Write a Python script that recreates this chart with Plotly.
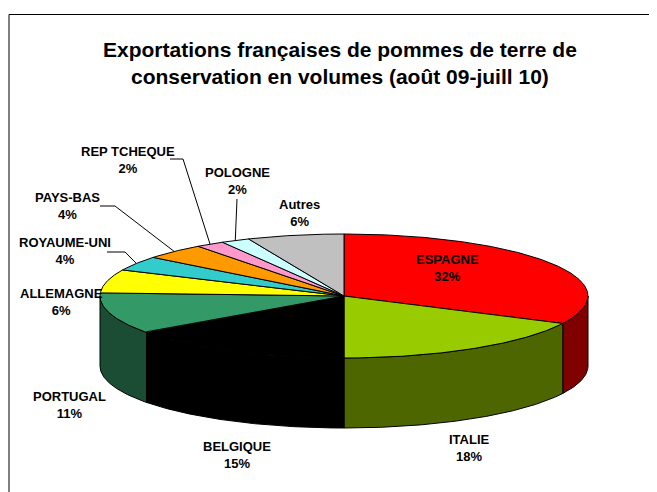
import numpy as np
import plotly.graph_objects as go

# ---- data ----
countries = ["ESPAGNE", "ITALIE", "BELGIQUE", "PORTUGAL", "ALLEMAGNE",
             "ROYAUME-UNI", "PAYS-BAS", "REP TCHEQUE", "POLOGNE", "Autres"]
shares = [32.3, 17.7, 15.0, 10.8, 6.1, 3.8, 4.1, 1.9, 1.9, 6.4]
pct_labels = [32, 18, 15, 11, 6, 4, 4, 2, 2, 6]
title_text = ("Exportations françaises de pommes de terre de<br>"
              "conservation en volumes (août 09-juill 10)")

# ---- style / layout ----
top_colors = ["#FF0000", "#99CC00", "#000000", "#339966", "#FFFF00",
              "#33CCCC", "#FF9900", "#FF99CC", "#CCFFFF", "#C0C0C0"]
side_colors = ["#800000", "#4D6600", "#000000", "#1A4D33", "#808000",
               "#1A6666", "#804D00", "#804D66", "#668080", "#606060"]
W, H = 657, 492
PAGE_OFF = 8  # browser default body margin
CX, CY, RX, RY, DEPTH = 344, 296, 244, 62, 70
FONT = "Liberation Sans, Arial, sans-serif"
label_pos = [(447, 268), (469, 448), (237, 455), (69, 405), (61, 302),
             (65, 251), (67, 206), (128, 160), (237, 181), (299, 213)]
# leader lines: label-side anchor points (elbows); None = no leader
leader_pts = [None, None, None, None, None,
              [(107, 252), (125, 252)],
              [(100, 206), (115, 206)],
              [(170, 159), (183, 159)],
              [(237, 199), (236, 216)],
              None]


def ell(theta_deg, dy=0.0):
    t = np.radians(theta_deg)
    return CX + RX * np.sin(t), CY - RY * np.cos(t) + dy


total = sum(shares)
bounds = np.concatenate([[0], np.cumsum(shares)]) / total * 360.0

fig = go.Figure()

# side walls (visible front part: 90..270 deg clockwise from top)
for i in range(len(countries)):
    a0, a1 = max(bounds[i], 90), min(bounds[i + 1], 270)
    if a1 <= a0:
        continue
    th = np.linspace(a0, a1, max(int((a1 - a0) * 2), 3))
    xt, yt = ell(th)
    xb, yb = ell(th[::-1], DEPTH)
    xs = np.concatenate([xt, xb, xt[:1]])
    ys = np.concatenate([yt, yb, yt[:1]])
    fig.add_trace(go.Scatter(x=xs, y=ys, mode="lines", fill="toself",
                             fillcolor=side_colors[i],
                             line=dict(color="black", width=1),
                             hoverinfo="skip", showlegend=False))

# top faces
for i in range(len(countries)):
    a0, a1 = bounds[i], bounds[i + 1]
    th = np.linspace(a0, a1, max(int((a1 - a0) * 2), 3))
    xa, ya = ell(th)
    xs = np.concatenate([[CX], xa, [CX]])
    ys = np.concatenate([[CY], ya, [CY]])
    fig.add_trace(go.Scatter(x=xs, y=ys, mode="lines", fill="toself",
                             fillcolor=top_colors[i],
                             line=dict(color="black", width=1),
                             hoverinfo="skip", showlegend=False))

# leader lines
for i in range(len(countries)):
    if leader_pts[i] is None:
        continue
    mid = (bounds[i] + bounds[i + 1]) / 2
    ex, ey = ell(mid)
    xs = [p[0] for p in leader_pts[i]] + [ex]
    ys = [p[1] for p in leader_pts[i]] + [ey]
    fig.add_trace(go.Scatter(x=xs, y=ys, mode="lines",
                             line=dict(color="black", width=1),
                             hoverinfo="skip", showlegend=False))

# labels
for i, name in enumerate(countries):
    fig.add_annotation(x=label_pos[i][0], y=label_pos[i][1],
                       text=f"<b>{name}</b><br><b>{pct_labels[i]}%</b>",
                       showarrow=False, xanchor="center", yanchor="middle",
                       font=dict(family=FONT, size=13, color="black"))

# title
fig.add_annotation(x=340, y=63, text=f"<b>{title_text}</b>",
                   showarrow=False, xanchor="center", yanchor="middle",
                   font=dict(family=FONT, size=21, color="black"))

# chart frame
fig.add_shape(type="rect", x0=9, y0=14.5, x1=W + 10, y1=H + 10,
              line=dict(color="black", width=1), fillcolor="rgba(0,0,0,0)",
              layer="below")

fig.update_layout(
    width=W - PAGE_OFF, height=H - PAGE_OFF,
    margin=dict(l=0, r=0, t=0, b=0),
    paper_bgcolor="white", plot_bgcolor="white",
    xaxis=dict(range=[PAGE_OFF, W], visible=False, fixedrange=True),
    yaxis=dict(range=[H, PAGE_OFF], visible=False, fixedrange=True),
    showlegend=False,
)

fig.write_html("out.html")
